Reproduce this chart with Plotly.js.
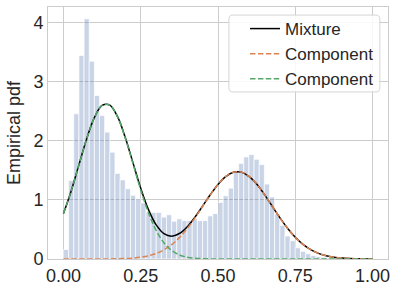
<!DOCTYPE html>
<html><head><meta charset="utf-8">
<script src="https://cdn.plot.ly/plotly-3.0.1.min.js"></script>
<style>html,body{margin:0;padding:0;background:#fff}#chart{width:399px;height:294px}</style>
</head><body><div id="chart"></div>
<script>
// Histogram: 60 equal bins on [0, 1], density values
const binStart = 0;
const binEnd = 1;
const binDensity = [0.16,1.33,2.46,3.45,4.07,3.35,2.77,2.43,2.15,1.81,
  1.45,1.34,1.19,1.08,1.02,0.95,0.79,0.79,0.79,0.71,
  0.75,0.64,0.68,0.65,0.65,0.68,0.65,0.65,0.73,0.77,
  0.96,1.07,1.20,1.50,1.62,1.73,1.77,1.69,1.60,1.27,
  1.05,0.76,0.57,0.39,0.31,0.19,0.13,0.09,0.06,0.04,
  0.03,0.02,0.015,0.01,0.008,0.005,0.003,0.002,0.001,0.001];

const curveX = [0,0.025,0.05,0.075,0.1,0.125,0.15,0.175,0.2,0.225,0.25,0.275,0.3,0.325,0.35,0.375,0.4,0.425,0.45,0.475,
  0.5,0.525,0.55,0.575,0.6,0.625,0.65,0.675,0.7,0.725,0.75,0.775,0.8,0.825,0.85,0.875,0.9,0.925,0.95,0.975,1.0];
const mixture = [0.769,1.153,1.595,2.035,2.396,2.602,2.608,2.411,2.060,1.629,1.200,0.837,0.577,0.430,0.387,0.432,0.544,0.706,0.895,1.089,
  1.264,1.397,1.470,1.472,1.401,1.270,1.095,0.898,0.700,0.520,0.367,0.247,0.158,0.096,0.056,0.031,0.016,0.008,0.004,0.002,0.001];
const componentB = [0,0,0,0,0,0.0001,0.0017,0.0037,0.0077,0.0156,0.030,0.054,0.094,0.155,0.243,0.362,0.513,0.693,0.890,1.087,
  1.263,1.397,1.470,1.472,1.401,1.270,1.095,0.898,0.700,0.520,0.367,0.247,0.158,0.096,0.056,0.031,0.016,0.008,0.004,0.002,0.001];
const componentA = [0.769,1.153,1.595,2.035,2.396,2.602,2.606,2.407,2.052,1.613,1.170,0.783,0.483,0.275,0.144,0.070,0.031,0.013,0.005,0.002,
  0.001,0,0,0,0,0,0,0,0,0,0,0,0,0,0,0,0,0,0,0,0];

const xTicks = [0, 0.25, 0.5, 0.75, 1.0];
const xTickLabels = ['0.00','0.25','0.50','0.75','1.00'];
const yTicks = [0,1,2,3,4];

const nBins = binDensity.length;
const binW = (binEnd - binStart) / nBins;
const binCenters = binDensity.map((_, i) => binStart + (i + 0.5) * binW);

// legend frame (paper coordinates) with rounded corners
function roundedRect(x0, y0, x1, y1, rx, ry) {
  return `M ${x0+rx},${y1} L ${x1-rx},${y1} Q ${x1},${y1} ${x1},${y1-ry} ` +
         `L ${x1},${y0+ry} Q ${x1},${y0} ${x1-rx},${y0} L ${x0+rx},${y0} ` +
         `Q ${x0},${y0} ${x0},${y0+ry} L ${x0},${y1-ry} Q ${x0},${y1} ${x0+rx},${y1} Z`;
}

const font = 'Liberation Sans, Arial, sans-serif';
const traces = [
  {type:'bar', x: binCenters, y: binDensity, width: binW, showlegend:false,
   marker:{color:'rgba(76,114,176,0.3)', line:{color:'rgba(255,255,255,0.9)', width:0.8}}, hoverinfo:'skip'},
  {type:'scatter', mode:'lines', x: curveX, y: mixture, name:'Mixture',
   line:{color:'#000000', width:1.5, shape:'spline'}},
  {type:'scatter', mode:'lines', x: curveX, y: componentB, name:'Component',
   line:{color:'#dd8452', width:1.5, dash:'5.5px,2.4px', shape:'spline'}},
  {type:'scatter', mode:'lines', x: curveX, y: componentA, name:'Component',
   line:{color:'#55a868', width:1.5, dash:'5.5px,2.4px', shape:'spline'}}
];

const layout = {
  width:399, height:294,
  margin:{l:48, r:11, t:7, b:35, pad:0},
  paper_bgcolor:'#ffffff', plot_bgcolor:'#ffffff',
  font:{family:font, size:18, color:'#262626'},
  bargap:0,
  showlegend:true,
  legend:{x:0.9736, xanchor:'right', y:0.984, yanchor:'top',
    bgcolor:'rgba(0,0,0,0)', borderwidth:0,
    font:{family:font, size:17, color:'#262626'}, tracegroupgap:0},
  shapes:[{type:'path', xref:'paper', yref:'paper', layer:'above',
    path: roundedRect(0.532, 0.663, 0.976, 0.968, 0.0118, 0.0159),
    fillcolor:'rgba(255,255,255,0.85)', line:{color:'#d5d5d5', width:1}}],
  xaxis:{range:[-0.05,1.05], tickvals:xTicks, ticktext:xTickLabels,
    showgrid:true, gridcolor:'#cccccc', gridwidth:1, zeroline:false,
    showline:true, mirror:true, linecolor:'#cccccc', linewidth:1,
    ticks:'', tickfont:{family:font, size:18, color:'#262626'}},
  yaxis:{range:[0,4.27], tickvals:yTicks,
    showgrid:true, gridcolor:'#cccccc', gridwidth:1, zeroline:false,
    showline:true, mirror:true, linecolor:'#cccccc', linewidth:1,
    ticks:'', tickfont:{family:font, size:18, color:'#262626'},
    title:{text:'Empirical pdf', font:{family:font, size:18, color:'#262626'}, standoff:8}}
};

Plotly.newPlot('chart', traces, layout, {displayModeBar:false, staticPlot:true});
</script>
</body></html>
